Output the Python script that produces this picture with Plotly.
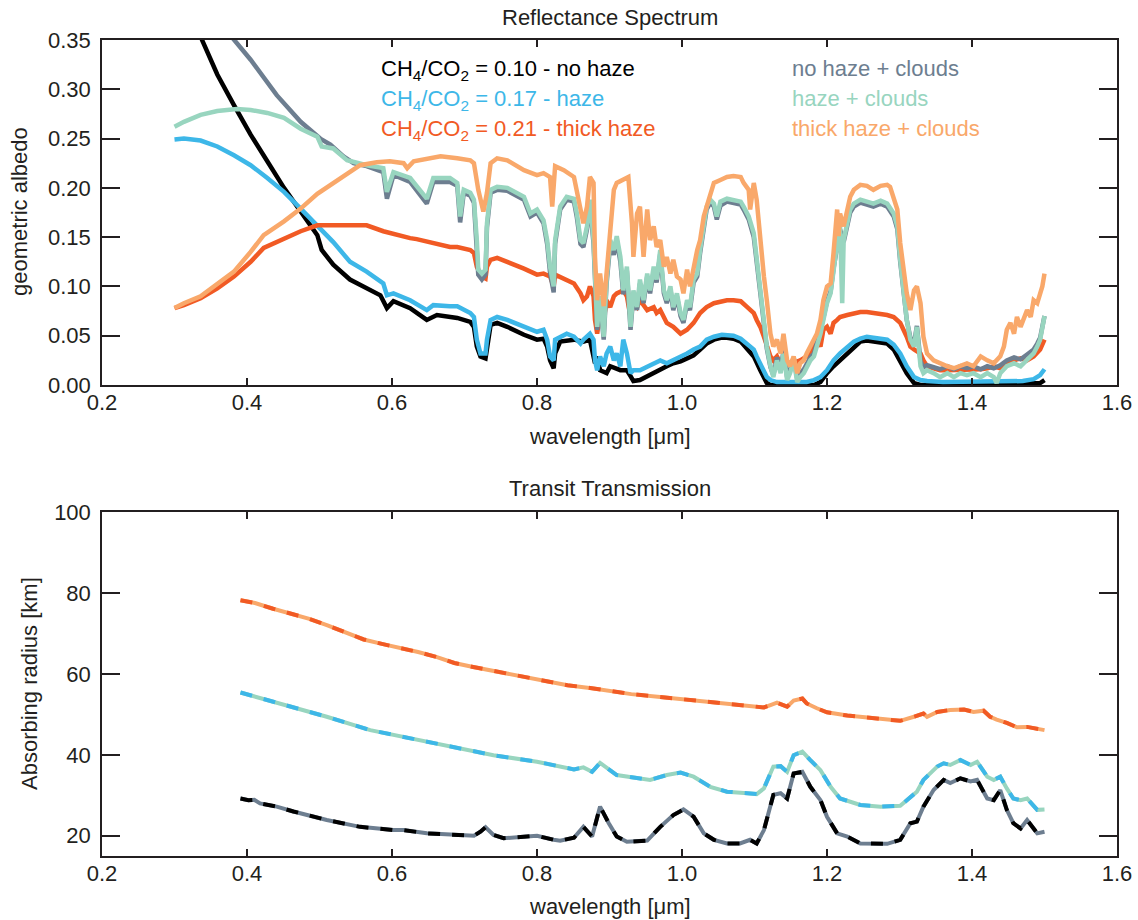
import plotly.graph_objects as go

# ---------------- Reflectance spectra: wavelength [um] / geometric albedo ----------------
wl_nohaze = [0.300, 0.320, 0.338, 0.359, 0.382, 0.405, 0.428, 0.451, 0.474, 0.497,
             0.503, 0.519, 0.542, 0.565, 0.584, 0.593, 0.602, 0.625, 0.648, 0.662,
             0.680, 0.690, 0.708, 0.713, 0.717, 0.722, 0.729, 0.731, 0.736, 0.745,
             0.759, 0.782, 0.800, 0.809, 0.814, 0.818, 0.823, 0.825, 0.832, 0.851,
             0.864, 0.873, 0.880, 0.883, 0.887, 0.896, 0.901, 0.915, 0.924, 0.929,
             0.933, 0.942, 0.952, 0.961, 0.970, 0.979, 0.988, 0.998, 1.007, 1.016,
             1.025, 1.034, 1.044, 1.055, 1.062, 1.071, 1.081, 1.090, 1.099, 1.108,
             1.117, 1.122, 1.145, 1.182, 1.191, 1.200, 1.209, 1.218, 1.228, 1.237,
             1.246, 1.255, 1.264, 1.274, 1.283, 1.292, 1.301, 1.310, 1.320, 1.329,
             1.400, 1.470, 1.494, 1.500]
alb_nohaze = [0.440, 0.390, 0.350, 0.315, 0.284, 0.254, 0.227, 0.200, 0.176, 0.152,
              0.137, 0.122, 0.107, 0.098, 0.091, 0.078, 0.085, 0.078, 0.066, 0.071,
              0.069, 0.068, 0.064, 0.059, 0.039, 0.029, 0.027, 0.039, 0.061, 0.063,
              0.059, 0.051, 0.046, 0.047, 0.039, 0.025, 0.017, 0.032, 0.044, 0.046,
              0.044, 0.046, 0.022, 0.029, 0.015, 0.012, 0.019, 0.015, 0.015, 0.009,
              0.004, 0.005, 0.009, 0.012, 0.015, 0.019, 0.022, 0.024, 0.027, 0.030,
              0.036, 0.042, 0.046, 0.048, 0.048, 0.047, 0.044, 0.037, 0.029, 0.015,
              0.002, 0.000, 0.000, 0.000, 0.003, 0.012, 0.019, 0.025, 0.032, 0.039,
              0.044, 0.045, 0.044, 0.043, 0.042, 0.036, 0.025, 0.012, 0.002, 0.000,
              0.000, 0.001, 0.002, 0.005]

wl_haze = [0.300, 0.313, 0.336, 0.359, 0.382, 0.405, 0.428, 0.451, 0.474, 0.497,
           0.519, 0.542, 0.565, 0.588, 0.593, 0.602, 0.625, 0.648, 0.657, 0.680,
           0.690, 0.708, 0.713, 0.717, 0.722, 0.729, 0.731, 0.736, 0.745, 0.759,
           0.782, 0.800, 0.809, 0.814, 0.818, 0.823, 0.825, 0.832, 0.841, 0.851,
           0.860, 0.864, 0.869, 0.873, 0.878, 0.880, 0.883, 0.887, 0.892, 0.896,
           0.901, 0.906, 0.910, 0.915, 0.919, 0.924, 0.929, 0.933, 0.942, 0.952,
           0.961, 0.970, 0.979, 0.988, 0.998, 1.007, 1.016, 1.025, 1.034, 1.044,
           1.055, 1.062, 1.071, 1.081, 1.090, 1.099, 1.103, 1.108, 1.113, 1.117,
           1.122, 1.131, 1.145, 1.159, 1.172, 1.182, 1.191, 1.200, 1.209, 1.218,
           1.228, 1.237, 1.246, 1.255, 1.264, 1.274, 1.283, 1.292, 1.301, 1.310,
           1.320, 1.329, 1.338, 1.360, 1.400, 1.440, 1.470, 1.485, 1.494, 1.500]
alb_haze = [0.249, 0.250, 0.248, 0.242, 0.233, 0.223, 0.210, 0.196, 0.179, 0.162,
            0.145, 0.125, 0.115, 0.103, 0.091, 0.093, 0.086, 0.076, 0.081, 0.080,
            0.080, 0.073, 0.069, 0.046, 0.032, 0.032, 0.046, 0.066, 0.069, 0.066,
            0.059, 0.054, 0.056, 0.046, 0.029, 0.025, 0.046, 0.049, 0.052, 0.049,
            0.042, 0.046, 0.049, 0.052, 0.046, 0.025, 0.015, 0.029, 0.019, 0.032,
            0.039, 0.025, 0.032, 0.019, 0.046, 0.032, 0.012, 0.015, 0.015, 0.019,
            0.022, 0.025, 0.022, 0.025, 0.029, 0.032, 0.036, 0.039, 0.046, 0.049,
            0.051, 0.051, 0.050, 0.047, 0.042, 0.036, 0.029, 0.022, 0.015, 0.008,
            0.005, 0.003, 0.003, 0.003, 0.003, 0.005, 0.008, 0.015, 0.025, 0.032,
            0.039, 0.044, 0.047, 0.049, 0.048, 0.047, 0.046, 0.041, 0.032, 0.019,
            0.008, 0.005, 0.004, 0.003, 0.003, 0.003, 0.004, 0.006, 0.010, 0.016]

wl_thick = [0.300, 0.313, 0.336, 0.359, 0.382, 0.405, 0.423, 0.451, 0.474, 0.497,
            0.519, 0.542, 0.556, 0.565, 0.588, 0.611, 0.625, 0.634, 0.657, 0.680,
            0.690, 0.708, 0.713, 0.717, 0.724, 0.729, 0.731, 0.736, 0.745, 0.759,
            0.782, 0.800, 0.809, 0.818, 0.823, 0.825, 0.837, 0.851, 0.860, 0.864,
            0.869, 0.873, 0.878, 0.880, 0.883, 0.887, 0.892, 0.896, 0.901, 0.906,
            0.910, 0.919, 0.924, 0.929, 0.933, 0.938, 0.942, 0.952, 0.961, 0.965,
            0.970, 0.979, 0.988, 0.998, 1.007, 1.016, 1.025, 1.034, 1.044, 1.055,
            1.062, 1.071, 1.081, 1.090, 1.099, 1.103, 1.108, 1.113, 1.117, 1.122,
            1.126, 1.131, 1.136, 1.140, 1.145, 1.154, 1.163, 1.172, 1.182, 1.186,
            1.191, 1.195, 1.200, 1.205, 1.209, 1.214, 1.218, 1.228, 1.237, 1.246,
            1.255, 1.264, 1.274, 1.283, 1.292, 1.301, 1.310, 1.315, 1.320, 1.324,
            1.329, 1.333, 1.338, 1.347, 1.356, 1.366, 1.375, 1.384, 1.393, 1.402,
            1.412, 1.421, 1.430, 1.439, 1.448, 1.458, 1.467, 1.476, 1.485, 1.494,
            1.500]
alb_thick = [0.078, 0.081, 0.088, 0.098, 0.110, 0.125, 0.139, 0.149, 0.156, 0.162,
             0.162, 0.162, 0.163, 0.162, 0.156, 0.151, 0.149, 0.148, 0.144, 0.140,
             0.140, 0.137, 0.134, 0.120, 0.110, 0.108, 0.120, 0.127, 0.129, 0.125,
             0.118, 0.112, 0.113, 0.110, 0.100, 0.112, 0.108, 0.103, 0.093, 0.086,
             0.090, 0.100, 0.090, 0.066, 0.052, 0.073, 0.066, 0.086, 0.079, 0.090,
             0.093, 0.096, 0.090, 0.069, 0.083, 0.079, 0.086, 0.076, 0.079, 0.073,
             0.076, 0.063, 0.059, 0.052, 0.056, 0.063, 0.073, 0.079, 0.083, 0.085,
             0.086, 0.086, 0.085, 0.079, 0.073, 0.066, 0.059, 0.049, 0.039, 0.029,
             0.025, 0.029, 0.022, 0.025, 0.020, 0.022, 0.025, 0.029, 0.039, 0.046,
             0.039, 0.056, 0.059, 0.052, 0.063, 0.066, 0.069, 0.071, 0.073, 0.074,
             0.074, 0.073, 0.073, 0.071, 0.069, 0.063, 0.049, 0.039, 0.036, 0.034,
             0.032, 0.025, 0.019, 0.017, 0.015, 0.015, 0.015, 0.016, 0.015, 0.015,
             0.016, 0.017, 0.019, 0.017, 0.022, 0.025, 0.027, 0.025, 0.029, 0.036,
             0.046]

wl_nohaze_cl = [0.300, 0.340, 0.379, 0.405, 0.441, 0.474, 0.501, 0.515, 0.533, 0.547,
                0.565, 0.588, 0.593, 0.602, 0.625, 0.648, 0.657, 0.680, 0.690, 0.694,
                0.699, 0.708, 0.713, 0.717, 0.719, 0.724, 0.729, 0.731, 0.736, 0.745,
                0.759, 0.782, 0.791, 0.800, 0.809, 0.814, 0.818, 0.823, 0.825, 0.832,
                0.841, 0.851, 0.855, 0.860, 0.864, 0.869, 0.873, 0.878, 0.883, 0.887,
                0.892, 0.896, 0.901, 0.906, 0.910, 0.915, 0.919, 0.924, 0.929, 0.933,
                0.938, 0.942, 0.947, 0.952, 0.956, 0.961, 0.965, 0.970, 0.975, 0.979,
                0.984, 0.988, 0.993, 0.998, 1.002, 1.007, 1.011, 1.016, 1.021, 1.025,
                1.030, 1.034, 1.039, 1.044, 1.048, 1.053, 1.062, 1.071, 1.081, 1.085,
                1.092, 1.099, 1.103, 1.108, 1.113, 1.117, 1.122, 1.126, 1.131, 1.136,
                1.140, 1.145, 1.149, 1.154, 1.159, 1.163, 1.168, 1.172, 1.177, 1.182,
                1.186, 1.191, 1.195, 1.200, 1.205, 1.209, 1.214, 1.218, 1.223, 1.228,
                1.232, 1.237, 1.246, 1.255, 1.264, 1.274, 1.283, 1.292, 1.297, 1.301,
                1.306, 1.310, 1.315, 1.320, 1.324, 1.329, 1.333, 1.338, 1.347, 1.356,
                1.366, 1.375, 1.384, 1.393, 1.402, 1.412, 1.421, 1.430, 1.439, 1.448,
                1.458, 1.467, 1.476, 1.485, 1.490, 1.494, 1.500]
alb_nohaze_cl = [0.450, 0.390, 0.353, 0.330, 0.294, 0.267, 0.250, 0.244, 0.232, 0.225,
                 0.222, 0.216, 0.189, 0.213, 0.206, 0.184, 0.206, 0.206, 0.202, 0.165,
                 0.195, 0.192, 0.185, 0.143, 0.112, 0.107, 0.112, 0.160, 0.195, 0.198,
                 0.197, 0.188, 0.171, 0.175, 0.164, 0.143, 0.114, 0.094, 0.143, 0.178,
                 0.188, 0.186, 0.170, 0.143, 0.140, 0.158, 0.185, 0.143, 0.056, 0.086,
                 0.046, 0.103, 0.143, 0.132, 0.147, 0.125, 0.092, 0.116, 0.056, 0.092,
                 0.076, 0.103, 0.083, 0.110, 0.093, 0.116, 0.104, 0.133, 0.093, 0.083,
                 0.097, 0.076, 0.090, 0.070, 0.063, 0.083, 0.076, 0.104, 0.110, 0.134,
                 0.158, 0.178, 0.185, 0.181, 0.168, 0.182, 0.186, 0.185, 0.183, 0.178,
                 0.168, 0.150, 0.124, 0.090, 0.063, 0.037, 0.018, 0.010, 0.028, 0.015,
                 0.035, 0.008, 0.015, 0.028, 0.006, 0.012, 0.016, 0.022, 0.028, 0.032,
                 0.042, 0.055, 0.068, 0.085, 0.095, 0.118, 0.142, 0.158, 0.145, 0.164,
                 0.175, 0.181, 0.185, 0.183, 0.181, 0.184, 0.181, 0.171, 0.158, 0.125,
                 0.092, 0.066, 0.048, 0.042, 0.060, 0.024, 0.018, 0.020, 0.018, 0.016,
                 0.019, 0.016, 0.019, 0.017, 0.019, 0.016, 0.019, 0.017, 0.020, 0.025,
                 0.028, 0.026, 0.031, 0.036, 0.042, 0.048, 0.070]

wl_haze_cl = [0.300, 0.313, 0.336, 0.359, 0.386, 0.405, 0.428, 0.451, 0.474, 0.497,
              0.503, 0.519, 0.538, 0.552, 0.565, 0.588, 0.593, 0.602, 0.625, 0.648,
              0.657, 0.680, 0.690, 0.694, 0.699, 0.708, 0.713, 0.717, 0.719, 0.724,
              0.729, 0.731, 0.736, 0.745, 0.759, 0.782, 0.791, 0.800, 0.809, 0.814,
              0.818, 0.823, 0.825, 0.832, 0.841, 0.851, 0.855, 0.860, 0.864, 0.869,
              0.873, 0.878, 0.883, 0.887, 0.892, 0.896, 0.901, 0.906, 0.910, 0.915,
              0.919, 0.924, 0.929, 0.933, 0.938, 0.942, 0.947, 0.952, 0.956, 0.961,
              0.965, 0.970, 0.975, 0.979, 0.984, 0.988, 0.993, 0.998, 1.002, 1.007,
              1.011, 1.016, 1.021, 1.025, 1.030, 1.034, 1.039, 1.044, 1.048, 1.053,
              1.062, 1.071, 1.081, 1.085, 1.092, 1.099, 1.103, 1.108, 1.113, 1.117,
              1.122, 1.126, 1.131, 1.136, 1.140, 1.145, 1.149, 1.154, 1.159, 1.163,
              1.168, 1.172, 1.177, 1.182, 1.186, 1.191, 1.195, 1.200, 1.205, 1.209,
              1.214, 1.218, 1.221, 1.223, 1.228, 1.232, 1.237, 1.246, 1.255, 1.264,
              1.274, 1.283, 1.292, 1.297, 1.301, 1.306, 1.310, 1.315, 1.320, 1.324,
              1.329, 1.333, 1.338, 1.347, 1.356, 1.366, 1.375, 1.384, 1.393, 1.402,
              1.412, 1.421, 1.430, 1.434, 1.439, 1.448, 1.458, 1.467, 1.476, 1.485,
              1.490, 1.494, 1.500]
alb_haze_cl = [0.262, 0.267, 0.274, 0.278, 0.280, 0.279, 0.276, 0.271, 0.260, 0.252,
               0.242, 0.240, 0.228, 0.225, 0.223, 0.220, 0.196, 0.216, 0.210, 0.189,
               0.210, 0.210, 0.205, 0.171, 0.198, 0.195, 0.188, 0.147, 0.117, 0.113,
               0.117, 0.164, 0.198, 0.201, 0.200, 0.191, 0.174, 0.178, 0.167, 0.147,
               0.120, 0.100, 0.147, 0.181, 0.191, 0.189, 0.174, 0.147, 0.144, 0.161,
               0.188, 0.147, 0.059, 0.090, 0.049, 0.107, 0.147, 0.137, 0.151, 0.130,
               0.096, 0.120, 0.059, 0.096, 0.079, 0.107, 0.086, 0.113, 0.096, 0.120,
               0.107, 0.137, 0.096, 0.086, 0.100, 0.079, 0.093, 0.073, 0.066, 0.086,
               0.079, 0.107, 0.113, 0.137, 0.161, 0.181, 0.188, 0.184, 0.171, 0.186,
               0.189, 0.188, 0.186, 0.181, 0.171, 0.154, 0.127, 0.093, 0.066, 0.039,
               0.019, 0.008, 0.025, 0.012, 0.032, 0.005, 0.012, 0.025, 0.003, 0.008,
               0.012, 0.019, 0.025, 0.029, 0.039, 0.052, 0.066, 0.083, 0.093, 0.117,
               0.144, 0.161, 0.083, 0.147, 0.167, 0.178, 0.184, 0.188, 0.186, 0.184,
               0.187, 0.184, 0.174, 0.161, 0.127, 0.093, 0.066, 0.046, 0.039, 0.059,
               0.019, 0.012, 0.015, 0.012, 0.008, 0.012, 0.008, 0.012, 0.010, 0.012,
               0.008, 0.012, 0.008, 0.002, 0.012, 0.019, 0.022, 0.019, 0.025, 0.032,
               0.039, 0.046, 0.070]

wl_thick_cl = [0.300, 0.313, 0.336, 0.359, 0.382, 0.405, 0.423, 0.451, 0.474, 0.497,
               0.519, 0.542, 0.556, 0.579, 0.597, 0.616, 0.621, 0.630, 0.653, 0.667,
               0.690, 0.708, 0.713, 0.719, 0.726, 0.731, 0.736, 0.745, 0.759, 0.782,
               0.800, 0.809, 0.818, 0.821, 0.825, 0.837, 0.851, 0.860, 0.864, 0.869,
               0.873, 0.878, 0.880, 0.883, 0.887, 0.892, 0.896, 0.901, 0.906, 0.910,
               0.919, 0.926, 0.931, 0.933, 0.938, 0.942, 0.947, 0.952, 0.956, 0.961,
               0.965, 0.970, 0.975, 0.979, 0.984, 0.988, 0.993, 0.998, 1.002, 1.007,
               1.011, 1.016, 1.021, 1.025, 1.030, 1.034, 1.044, 1.053, 1.062, 1.071,
               1.081, 1.085, 1.092, 1.094, 1.099, 1.103, 1.108, 1.113, 1.117, 1.122,
               1.126, 1.131, 1.136, 1.140, 1.145, 1.149, 1.154, 1.159, 1.163, 1.168,
               1.172, 1.177, 1.182, 1.186, 1.191, 1.195, 1.200, 1.205, 1.209, 1.214,
               1.216, 1.218, 1.223, 1.228, 1.232, 1.237, 1.246, 1.255, 1.264, 1.274,
               1.283, 1.287, 1.292, 1.297, 1.301, 1.306, 1.310, 1.315, 1.320, 1.324,
               1.329, 1.333, 1.338, 1.347, 1.356, 1.366, 1.375, 1.384, 1.393, 1.402,
               1.412, 1.421, 1.430, 1.439, 1.444, 1.448, 1.453, 1.458, 1.462, 1.467,
               1.471, 1.476, 1.481, 1.485, 1.490, 1.494, 1.497, 1.500]
alb_thick_cl = [0.078, 0.083, 0.090, 0.102, 0.115, 0.135, 0.152, 0.166, 0.179, 0.194,
                0.205, 0.216, 0.223, 0.226, 0.227, 0.225, 0.220, 0.227, 0.230, 0.232,
                0.230, 0.228, 0.225, 0.198, 0.176, 0.195, 0.225, 0.230, 0.228, 0.218,
                0.213, 0.215, 0.211, 0.181, 0.222, 0.218, 0.211, 0.181, 0.164, 0.181,
                0.211, 0.205, 0.130, 0.086, 0.113, 0.080, 0.113, 0.147, 0.198, 0.205,
                0.208, 0.211, 0.164, 0.130, 0.174, 0.181, 0.130, 0.178, 0.147, 0.161,
                0.140, 0.147, 0.120, 0.130, 0.113, 0.127, 0.110, 0.107, 0.093, 0.117,
                0.100, 0.120, 0.137, 0.147, 0.171, 0.181, 0.205, 0.208, 0.211, 0.212,
                0.211, 0.205, 0.198, 0.178, 0.205, 0.188, 0.144, 0.110, 0.086, 0.052,
                0.039, 0.046, 0.032, 0.052, 0.025, 0.019, 0.029, 0.012, 0.022, 0.025,
                0.032, 0.039, 0.046, 0.052, 0.066, 0.086, 0.100, 0.103, 0.134, 0.178,
                0.151, 0.174, 0.161, 0.178, 0.191, 0.198, 0.203, 0.202, 0.198, 0.202,
                0.203, 0.201, 0.191, 0.178, 0.144, 0.117, 0.093, 0.076, 0.096, 0.100,
                0.083, 0.049, 0.032, 0.025, 0.022, 0.019, 0.017, 0.020, 0.022, 0.019,
                0.029, 0.025, 0.022, 0.029, 0.039, 0.056, 0.063, 0.052, 0.069, 0.059,
                0.066, 0.076, 0.069, 0.086, 0.083, 0.093, 0.100, 0.113]

# ---------------- Transit transmission: wavelength [um] / absorbing radius [km] ----------------
wl_tr_thick = [0.391, 0.411, 0.436, 0.461, 0.486, 0.511, 0.536, 0.561, 0.586, 0.611,
               0.636, 0.661, 0.686, 0.712, 0.737, 0.762, 0.787, 0.812, 0.842, 0.878,
               0.930, 0.970, 1.016, 1.062, 1.113, 1.122, 1.131, 1.145, 1.154, 1.166,
               1.172, 1.186, 1.200, 1.228, 1.264, 1.301, 1.320, 1.333, 1.338, 1.352,
               1.370, 1.389, 1.402, 1.416, 1.425, 1.434, 1.448, 1.462, 1.476, 1.500]
rad_thick = [78.2, 77.5, 76.1, 74.9, 73.6, 72.0, 70.3, 68.5, 67.4, 66.5,
             65.4, 64.2, 62.7, 61.7, 60.8, 60.0, 59.2, 58.3, 57.2, 56.4,
             55.0, 54.3, 53.4, 52.5, 51.7, 52.3, 52.9, 51.9, 53.4, 53.9,
             52.7, 51.5, 50.5, 49.7, 49.0, 48.4, 49.4, 50.2, 49.4, 50.6,
             51.1, 51.2, 50.6, 50.9, 49.4, 48.7, 47.9, 46.8, 46.9, 46.1]

wl_tr_haze = [0.391, 0.411, 0.464, 0.510, 0.570, 0.625, 0.690, 0.740, 0.800, 0.851,
              0.864, 0.876, 0.887, 0.910, 0.956, 0.979, 0.998, 1.016, 1.039, 1.062,
              1.090, 1.103, 1.113, 1.126, 1.136, 1.145, 1.154, 1.166, 1.177, 1.191,
              1.205, 1.218, 1.246, 1.274, 1.301, 1.315, 1.324, 1.333, 1.352, 1.361,
              1.370, 1.384, 1.398, 1.407, 1.421, 1.430, 1.439, 1.448, 1.457, 1.467,
              1.476, 1.490, 1.500]
rad_haze = [55.4, 54.4, 51.9, 49.4, 46.1, 44.1, 41.6, 39.9, 38.3, 36.4,
            36.9, 35.8, 38.0, 35.0, 33.8, 35.0, 35.6, 34.6, 32.1, 30.9,
            30.5, 30.3, 31.7, 37.1, 37.2, 35.8, 39.9, 40.8, 38.7, 36.2,
            32.1, 29.2, 27.6, 27.2, 27.4, 29.7, 30.9, 33.8, 37.1, 37.9,
            37.5, 38.7, 37.5, 38.3, 34.6, 33.8, 34.6, 31.7, 29.2, 28.8,
            29.2, 26.4, 26.5]

wl_tr_nohaze = [0.391, 0.402, 0.410, 0.418, 0.441, 0.464, 0.510, 0.556, 0.602, 0.616,
                0.648, 0.694, 0.713, 0.722, 0.729, 0.740, 0.754, 0.786, 0.800, 0.823,
                0.832, 0.851, 0.864, 0.876, 0.887, 0.899, 0.910, 0.924, 0.952, 0.970,
                0.988, 1.002, 1.016, 1.030, 1.044, 1.062, 1.080, 1.094, 1.103, 1.113,
                1.126, 1.136, 1.145, 1.154, 1.166, 1.177, 1.191, 1.200, 1.214, 1.228,
                1.246, 1.283, 1.301, 1.315, 1.324, 1.333, 1.347, 1.361, 1.370, 1.384,
                1.398, 1.407, 1.421, 1.430, 1.439, 1.448, 1.457, 1.467, 1.476, 1.490,
                1.500]
rad_nohaze = [29.2, 28.8, 28.9, 28.0, 27.2, 26.0, 23.9, 22.2, 21.4, 21.4,
              20.6, 20.0, 20.0, 21.0, 22.1, 20.2, 19.4, 19.8, 20.0, 19.0,
              18.8, 19.5, 22.2, 19.8, 27.2, 23.1, 19.8, 18.5, 18.8, 22.2,
              25.1, 26.5, 24.7, 20.6, 19.0, 18.1, 18.1, 19.0, 18.1, 21.4,
              30.1, 30.5, 29.2, 35.4, 35.8, 32.1, 28.8, 24.7, 20.6, 19.8,
              18.1, 18.0, 19.0, 23.1, 23.5, 27.2, 31.3, 33.8, 33.0, 34.2,
              33.4, 33.8, 29.2, 28.8, 31.3, 26.4, 23.1, 21.8, 23.9, 20.6,
              21.0]

legend_left = ["CH<sub>4</sub>/CO<sub>2</sub> = 0.10 - no haze",
               "CH<sub>4</sub>/CO<sub>2</sub> = 0.17 - haze",
               "CH<sub>4</sub>/CO<sub>2</sub> = 0.21 - thick haze"]
legend_right = ["no haze + clouds", "haze + clouds", "thick haze + clouds"]

# ---------------- styling ----------------
C_BLACK = "#000000"
C_BLUE = "#3db7e8"
C_RED = "#f15a24"
C_GREY = "#6d7e90"
C_MINT = "#98d5bf"
C_LORANGE = "#f9a86a"
TEXT = "#231f20"
FONT = "Liberation Sans, Arial, Helvetica, sans-serif"
FS = 22

W, H = 1138, 920
ML, MR, MT, MB = 102, 21, 40, 64
PW, PH = W - ML - MR, H - MT - MB


def px_x(p):
    return (p - ML) / PW


def px_y(p):
    return (H - MB - p) / PH


fig = go.Figure()

# top panel: spectra without clouds first, cloudy versions on top
for wl, alb, col in [(wl_nohaze, alb_nohaze, C_BLACK),
                     (wl_haze, alb_haze, C_BLUE),
                     (wl_thick, alb_thick, C_RED),
                     (wl_nohaze_cl, alb_nohaze_cl, C_GREY),
                     (wl_haze_cl, alb_haze_cl, C_MINT),
                     (wl_thick_cl, alb_thick_cl, C_LORANGE)]:
    fig.add_trace(go.Scatter(x=wl, y=alb, mode="lines", xaxis="x", yaxis="y",
                             line=dict(color=col, width=4.5), showlegend=False,
                             hoverinfo="skip"))

# bottom panel: cloudy (solid) and clear (dashed) transit radii coincide
for wl, rad, solid, dashed in [(wl_tr_nohaze, rad_nohaze, C_GREY, C_BLACK),
                               (wl_tr_haze, rad_haze, C_MINT, C_BLUE),
                               (wl_tr_thick, rad_thick, C_LORANGE, C_RED)]:
    fig.add_trace(go.Scatter(x=wl, y=rad, mode="lines", xaxis="x2", yaxis="y2",
                             line=dict(color=solid, width=4), showlegend=False,
                             hoverinfo="skip"))
    fig.add_trace(go.Scatter(x=wl, y=rad, mode="lines", xaxis="x2", yaxis="y2",
                             line=dict(color=dashed, width=4, dash="12px,12px"),
                             showlegend=False, hoverinfo="skip"))

top_lo = px_y(385)
bot_hi = px_y(512)

axis_common = dict(showline=True, linecolor=TEXT, linewidth=1.5, mirror="ticks",
                   ticks="inside", tickcolor=TEXT, tickwidth=1.5, showgrid=False,
                   zeroline=False, tickfont=dict(family=FONT, size=FS, color=TEXT))
x_ticks = [0.2, 0.4, 0.6, 0.8, 1.0, 1.2, 1.4, 1.6]
x_text = ["0.2", "0.4", "0.6", "0.8", "1.0", "1.2", "1.4", "1.6"]

fig.update_layout(
    width=W, height=H,
    margin=dict(l=ML, r=MR, t=MT, b=MB, autoexpand=False),
    paper_bgcolor="white", plot_bgcolor="white",
    font=dict(family=FONT, size=FS, color=TEXT),
    xaxis=dict(domain=[0, 1], anchor="y", range=[0.2, 1.6], tickvals=x_ticks,
               ticktext=x_text, ticklen=7, ticklabelstandoff=-3, **axis_common),
    yaxis=dict(domain=[top_lo, 1], anchor="x", range=[0, 0.35],
               tickvals=[0, 0.05, 0.10, 0.15, 0.20, 0.25, 0.30, 0.35],
               ticktext=["0.00", "0.05", "0.10", "0.15", "0.20", "0.25", "0.30", "0.35"],
               ticklen=18, ticklabelstandoff=5, **axis_common),
    xaxis2=dict(domain=[0, 1], anchor="y2", range=[0.2, 1.6], tickvals=x_ticks,
                ticktext=x_text, ticklen=7, ticklabelstandoff=-3, **axis_common),
    yaxis2=dict(domain=[0, bot_hi], anchor="x2", range=[15, 100],
                tickvals=[20, 40, 60, 80, 100], ticklen=18, ticklabelstandoff=5,
                **axis_common),
)

annotations = [
    dict(text="Reflectance Spectrum", x=0.5, y=px_y(17.5)),
    dict(text="Transit Transmission", x=0.5, y=px_y(488)),
    dict(text="wavelength [μm]", x=0.5, y=px_y(436)),
    dict(text="wavelength [μm]", x=0.5, y=px_y(906)),
    dict(text="geometric albedo", x=px_x(19), y=px_y(212), textangle=-90),
    dict(text="Absorbing radius [km]", x=px_x(29), y=px_y(684), textangle=-90),
]
for i, (txt, col) in enumerate(zip(legend_left, [C_BLACK, C_BLUE, C_RED])):
    annotations.append(dict(text=txt, x=px_x(379), y=px_y(70 + 30 * i),
                            xanchor="left", font=dict(family=FONT, size=FS, color=col)))
for i, (txt, col) in enumerate(zip(legend_right, [C_GREY, C_MINT, C_LORANGE])):
    annotations.append(dict(text=txt, x=px_x(790), y=px_y(69 + 30 * i),
                            xanchor="left", font=dict(family=FONT, size=FS, color=col)))

for a in annotations:
    a.setdefault("xanchor", "center")
    a.setdefault("yanchor", "middle")
    a.setdefault("font", dict(family=FONT, size=FS, color=TEXT))
    a.update(xref="paper", yref="paper", showarrow=False)
fig.update_layout(annotations=annotations)

fig.write_html("out.html")
